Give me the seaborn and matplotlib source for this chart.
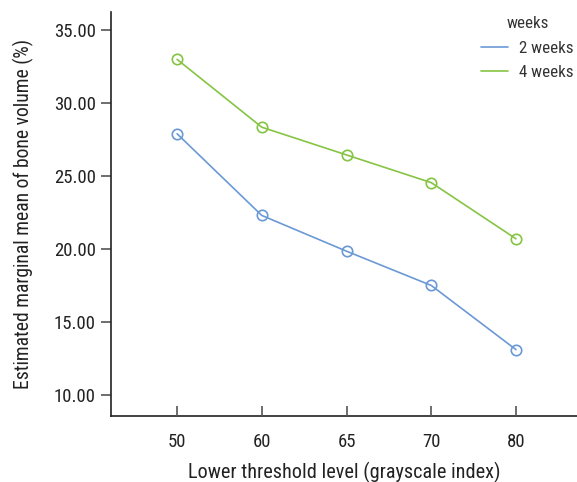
import matplotlib
matplotlib.use("Agg")
import matplotlib.pyplot as plt
from matplotlib.lines import Line2D, TICKUP
import seaborn as sns
import pandas as pd

thresholds = ["50", "60", "65", "70", "80"]
bv_2_weeks = [27.9, 22.3, 19.85, 17.5, 13.1]
bv_4_weeks = [33.0, 28.35, 26.45, 24.55, 20.7]
groups = ["2 weeks", "4 weeks"]
colors = {"2 weeks": "#6b99d6", "4 weeks": "#86c443"}
y_ticks = [10, 15, 20, 25, 30, 35]

df = pd.DataFrame({
    "threshold": thresholds * 2,
    "bv": bv_2_weeks + bv_4_weeks,
    "weeks": [groups[0]] * len(thresholds) + [groups[1]] * len(thresholds),
})

sns.set_style("ticks", {"xtick.direction": "in", "ytick.direction": "out",
                        "axes.edgecolor": "#222222"})
plt.rcParams["font.family"] = ["Roboto Condensed", "Roboto", "DejaVu Sans"]
plt.rcParams.update({
    "ytick.major.size": 7, "ytick.major.width": 1.2, "ytick.color": "#555555",
    "xtick.labelcolor": "#222222", "ytick.labelcolor": "#222222",
    "xtick.labelsize": 13.5, "ytick.labelsize": 13.5,
    "xtick.major.pad": 12, "ytick.major.pad": 4,
    "axes.linewidth": 1.2,
})

fig = plt.figure(figsize=(5.77, 4.82), dpi=100)
ax = fig.add_axes([111 / 577, 1 - 416 / 482, (577 - 111) / 577, (416 - 12) / 482])

sns.lineplot(data=df, x="threshold", y="bv", hue="weeks", palette=colors,
             marker="o", markersize=7.5, markerfacecolor="none",
             markeredgewidth=1.2, linewidth=1.2, legend=False, ax=ax, sort=False)
for line in ax.lines:
    line.set_markeredgecolor(line.get_color())

ax.set_xlim(-0.78, 4.72)
ax.set_ylim(8.55, 36.25)
ax.set_yticks(y_ticks)
ax.set_yticklabels([f"{v:.2f}" for v in y_ticks])
sns.despine(ax=ax)

ax.set_xlabel("Lower threshold level (grayscale index)", fontsize=14.6,
              color="#222222", labelpad=8)
ax.set_ylabel("Estimated marginal mean of bone volume (%)", fontsize=14.1,
              color="#222222", labelpad=14)

handles = [Line2D([0], [0], color=colors[g], lw=1.2) for g in groups]
leg = ax.legend(handles, groups, title="weeks", frameon=False, fontsize=12.2,
                title_fontsize=12.2, loc="upper right", bbox_to_anchor=(1.0, 0.998),
                borderaxespad=0.0, borderpad=0.2,
                handlelength=1.6, handletextpad=0.65, labelspacing=0.55)
for t in leg.get_texts():
    t.set_color("#333333")
leg.get_title().set_color("#333333")

# y ticks point out; the x ticks point up into the plot area and are drawn
# as tick-up markers at the category axis's own tick positions
ax.tick_params(axis="y", which="major", direction="out", length=7, width=1.2,
               color="#555555", left=True)
ax.tick_params(axis="x", which="major", length=0)
x_tick_pos = ax.get_xticks()
ax.plot(x_tick_pos, [0] * len(x_tick_pos), linestyle="none", marker=TICKUP,
        markersize=7, markeredgewidth=1.2, color="#555555",
        transform=ax.get_xaxis_transform(), clip_on=False, zorder=4)

fig.savefig("out.png", dpi=100)
